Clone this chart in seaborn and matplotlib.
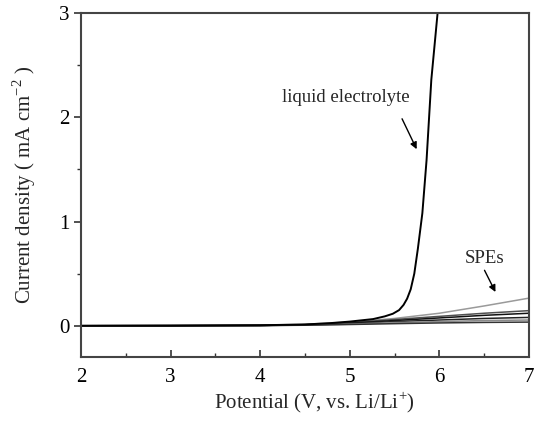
import matplotlib
matplotlib.use("Agg")
import matplotlib.pyplot as plt
from matplotlib.ticker import MultipleLocator
import seaborn as sns
import pandas as pd

# Linear sweep voltammetry data: potential (V vs. Li/Li+) and current density (mA cm^-2)
liquid_v = [2.0, 3.0, 4.0, 4.5, 4.78, 5.0, 5.26, 5.39, 5.48, 5.55, 5.60, 5.64, 5.68, 5.72, 5.76, 5.81, 5.857, 5.91, 5.98]
liquid_j = [0.0, 0.0, 0.005, 0.012, 0.025, 0.04, 0.064, 0.09, 0.115, 0.15, 0.20, 0.26, 0.35, 0.50, 0.74, 1.08, 1.59, 2.36, 3.0]

spe_v = [2.0, 4.0, 4.5, 5.0, 5.5, 6.0, 6.5, 7.0]
spe_a = [0.0, 0.005, 0.015, 0.035, 0.07, 0.12, 0.19, 0.265]
spe_b = [0.0, 0.003, 0.010, 0.030, 0.06, 0.09, 0.12, 0.145]
spe_c = [0.0, 0.003, 0.010, 0.025, 0.05, 0.075, 0.10, 0.12]
spe_d = [0.0, 0.002, 0.008, 0.020, 0.04, 0.055, 0.07, 0.08]
spe_e = [0.0, 0.002, 0.006, 0.015, 0.03, 0.04, 0.05, 0.055]
spe_f = [0.0, 0.002, 0.005, 0.012, 0.02, 0.027, 0.032, 0.035]

spe_series = [spe_a, spe_b, spe_c, spe_d, spe_e, spe_f]
spe_colors = ["#9a9a9a", "#505050", "#111111", "#222222", "#8a8a8a", "#333333"]

sns.set_style("ticks")
plt.rcParams["font.family"] = ["Liberation Serif", "DejaVu Serif"]
plt.rcParams["mathtext.fontset"] = "custom"
plt.rcParams["mathtext.rm"] = "Liberation Serif"

fig = plt.figure(figsize=(5.37, 4.23), dpi=100)
ax = fig.add_axes([0.151, 0.156, 0.834, 0.813])

for vals, col in zip(spe_series, spe_colors):
    df = pd.DataFrame({"V": spe_v, "J": vals})
    sns.lineplot(data=df, x="V", y="J", ax=ax, color=col, linewidth=1.1, sort=False)

liq = pd.DataFrame({"V": liquid_v, "J": liquid_j})
sns.lineplot(data=liq, x="V", y="J", ax=ax, color="black", linewidth=1.4, sort=False)

ax.set_xlim(2, 7)
ax.set_ylim(-0.3, 3)
ax.xaxis.set_major_locator(MultipleLocator(1))
ax.xaxis.set_minor_locator(MultipleLocator(0.5))
ax.yaxis.set_major_locator(MultipleLocator(1))
ax.yaxis.set_minor_locator(MultipleLocator(0.5))
ax.tick_params(axis="x", which="both", direction="in", colors="#333333", labelcolor="black", pad=8)
ax.tick_params(axis="y", which="both", direction="out", colors="#333333", labelcolor="black")
ax.tick_params(which="major", length=5, width=1.2, labelsize=15)
ax.tick_params(which="minor", length=3, width=1.0)
for s in ax.spines.values():
    s.set_linewidth(1.5)
    s.set_color("#444444")

ax.set_xlabel("Potential (V, vs. Li/Li$^{+}$)", fontsize=15, labelpad=2)
ax.xaxis.set_label_coords(0.522, -0.095)
ax.set_ylabel("Current density ( mA cm$^{-2}$ )", fontsize=15, labelpad=15)

ax.text(4.95, 2.19, "liquid electrolyte", fontsize=13.5, ha="center", va="center")
ax.annotate("", xy=(5.76, 1.67), xytext=(5.57, 2.01),
            arrowprops=dict(arrowstyle="-|>", color="black", lw=1.0, mutation_scale=10))
ax.text(6.5, 0.65, "SPEs", fontsize=13.5, ha="center", va="center")
ax.annotate("", xy=(6.64, 0.30), xytext=(6.49, 0.556),
            arrowprops=dict(arrowstyle="-|>", color="black", lw=1.0, mutation_scale=10))

fig.savefig("out.png", dpi=100)
